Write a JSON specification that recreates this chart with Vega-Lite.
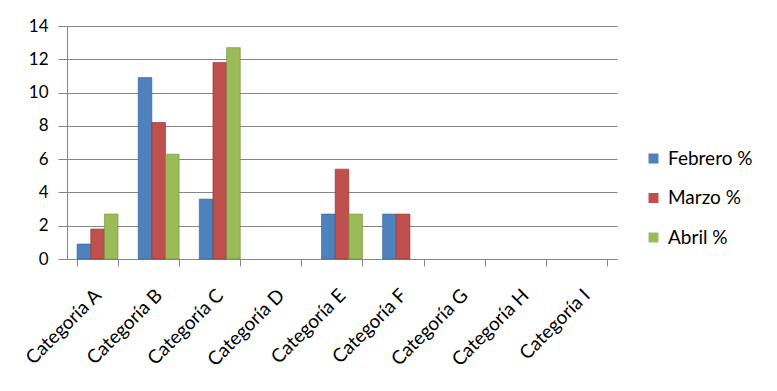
{
  "$schema": "https://vega.github.io/schema/vega-lite/v6.json",
  "width": 550,
  "height": 233,
  "autosize": {"type": "none"},
  "padding": {"left": 67, "top": 26, "right": 160, "bottom": 132},
  "background": "white",
  "data": {
    "values": [
      {"categoria": "Categoría A", "serie": "Febrero %", "valor": 0.9},
      {"categoria": "Categoría A", "serie": "Marzo %", "valor": 1.8},
      {"categoria": "Categoría A", "serie": "Abril %", "valor": 2.7},
      {"categoria": "Categoría B", "serie": "Febrero %", "valor": 10.9},
      {"categoria": "Categoría B", "serie": "Marzo %", "valor": 8.2},
      {"categoria": "Categoría B", "serie": "Abril %", "valor": 6.3},
      {"categoria": "Categoría C", "serie": "Febrero %", "valor": 3.6},
      {"categoria": "Categoría C", "serie": "Marzo %", "valor": 11.8},
      {"categoria": "Categoría C", "serie": "Abril %", "valor": 12.7},
      {"categoria": "Categoría E", "serie": "Febrero %", "valor": 2.7},
      {"categoria": "Categoría E", "serie": "Marzo %", "valor": 5.4},
      {"categoria": "Categoría E", "serie": "Abril %", "valor": 2.7},
      {"categoria": "Categoría F", "serie": "Febrero %", "valor": 2.7},
      {"categoria": "Categoría F", "serie": "Marzo %", "valor": 2.7}
    ]
  },
  "mark": {"type": "bar", "strokeWidth": 0.6},
  "encoding": {
    "x": {
      "field": "categoria",
      "type": "nominal",
      "scale": {
        "domain": ["Categoría A", "Categoría B", "Categoría C", "Categoría D", "Categoría E", "Categoría F", "Categoría G", "Categoría H", "Categoría I"],
        "paddingInner": 0.33,
        "paddingOuter": 0.165
      },
      "axis": {
        "title": null,
        "labelAngle": -45,
        "labelAlign": "right",
        "labelBaseline": "middle",
        "labelFont": "Lato",
        "labelFontSize": 19,
        "labelColor": "#000000",
        "labelPadding": 26,
        "tickBand": "extent",
        "tickSize": 7,
        "tickColor": "#868686",
        "domainColor": "#868686",
        "grid": false
      }
    },
    "xOffset": {
      "field": "serie",
      "type": "nominal",
      "sort": ["Febrero %", "Marzo %", "Abril %"],
      "scale": {"paddingInner": 0, "paddingOuter": 0}
    },
    "y": {
      "field": "valor",
      "type": "quantitative",
      "scale": {"domain": [0, 14], "nice": false},
      "axis": {
        "title": null,
        "values": [0, 2, 4, 6, 8, 10, 12, 14],
        "labelFont": "Lato",
        "labelFontSize": 17,
        "labelColor": "#000000",
        "labelPadding": 10,
        "tickSize": 9,
        "tickColor": "#868686",
        "domainColor": "#868686",
        "gridColor": "#868686",
        "grid": true
      }
    },
    "color": {
      "field": "serie",
      "type": "nominal",
      "sort": ["Febrero %", "Marzo %", "Abril %"],
      "scale": {"domain": ["Febrero %", "Marzo %", "Abril %"], "range": ["#4F81BD", "#C0504D", "#9BBB59"]},
      "legend": {
        "title": null,
        "orient": "none",
        "legendX": 577,
        "legendY": 123,
        "symbolType": "square",
        "symbolSize": 100,
        "symbolStrokeWidth": 0,
        "labelFont": "Lato",
        "labelFontSize": 19,
        "labelColor": "#000000",
        "rowPadding": 19.5,
        "labelOffset": 5
      }
    },
    "stroke": {
      "field": "serie",
      "type": "nominal",
      "scale": {"domain": ["Febrero %", "Marzo %", "Abril %"], "range": ["#2F5F94", "#8E2E2C", "#6E8A38"]},
      "legend": null
    }
  },
  "config": {
    "view": {"stroke": null},
    "axis": {"gridWidth": 1, "domainWidth": 1, "tickWidth": 1}
  }
}
